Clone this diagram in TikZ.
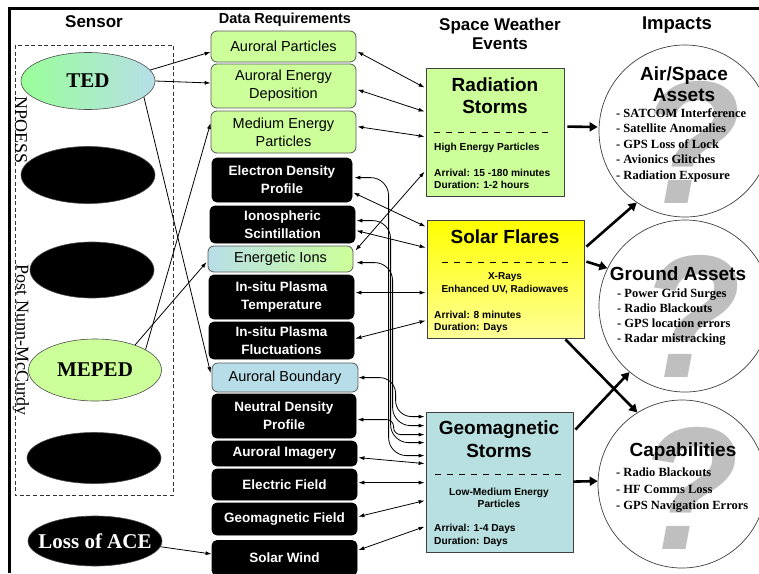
\documentclass[tikz,border=0pt]{standalone}
\usepackage{fontspec}
\setmainfont{Liberation Serif}
\setsansfont{Liberation Sans}
\usetikzlibrary{shapes.geometric,arrows.meta,calc}
\definecolor{lgreen}{HTML}{CCFF99}
\definecolor{lblue}{HTML}{B7DEE8}
\definecolor{tedgreen}{HTML}{99FF99}
\definecolor{lyellow}{HTML}{FFFF99}
\definecolor{gsblue}{HTML}{B8E0E0}
\begin{document}
\begin{tikzpicture}[x=1pt,y=-1pt,
  every node/.style={font=\sffamily},
  hdr/.style={font=\sffamily\bfseries\fontsize{17}{19}\selectfont, align=center, inner sep=0pt},
  dbox/.style={rectangle, rounded corners=6pt, draw=gray!70!black, line width=0.8pt, align=center, inner sep=1pt, font=\sffamily\fontsize{14.5}{18}\selectfont},
  gbox/.style={dbox, fill=lgreen},
  bbox/.style={dbox, fill=black, draw=black, text=white, rounded corners=5pt, font=\sffamily\bfseries\fontsize{13.5}{18}\selectfont},
  sens/.style={ellipse, draw=gray!60!black, line width=0.6pt, inner sep=0pt, font=\rmfamily\bfseries\fontsize{21}{21}\selectfont},
  rottext/.style={rotate=-90, inner sep=0pt, font=\rmfamily\fontsize{18}{18}\selectfont},
  evbox/.style={rectangle, draw=gray!50!black, line width=0.8pt, inner sep=0pt},
  etitle/.style={font=\sffamily\bfseries\fontsize{19}{22}\selectfont, align=center, inner sep=0pt},
  esmall/.style={font=\sffamily\bfseries\fontsize{10.2}{12.5}\selectfont, inner sep=0pt},
  edash/.style={line width=1pt, dash pattern=on 6pt off 6pt},
  impc/.style={circle, draw=gray!50!black, line width=0.7pt, fill=white, inner sep=0pt},
  ititle/.style={font=\sffamily\bfseries\fontsize{19}{21}\selectfont, align=center, inner sep=0pt},
  ilist/.style={font=\rmfamily\bfseries\fontsize{12.5}{15.5}\selectfont, align=left, inner sep=0pt, anchor=west},
  qmark/.style={font=\sffamily\bfseries\itshape\fontsize{175}{175}\selectfont, text=gray!62, text opacity=0.8, inner sep=0pt, xscale=0.95},
  tarr/.style={line width=0.8pt, -{Latex[length=6pt,width=4pt]}},
  darr/.style={line width=0.8pt, {Latex[length=6pt,width=4pt]}-{Latex[length=6pt,width=4pt]}},
  karr/.style={line width=2.6pt, -{Triangle[length=8pt,width=9pt]}}
]
\useasboundingbox (0,0) rectangle (759,573);
\fill[white] (0,0) rectangle (759,573);

% frame
\draw[line width=3pt] (9.5,573) -- (9.5,8) -- (759,8);

% headers
\node[hdr] (hsensor) at (94,22) {Sensor};
\node[hdr, font=\sffamily\bfseries\fontsize{14.5}{16}\selectfont] (hdata) at (285,20) {Data Requirements};
\node[hdr] (hsw) at (500,34) {Space Weather\\Events};
\node[hdr, font=\sffamily\bfseries\fontsize{18.5}{20}\selectfont] (himp) at (677,25) {Impacts};

% sensor group
\draw[dashed, dash pattern=on 4pt off 2.5pt, line width=0.7pt, gray!40!black] (15,45) rectangle (173,495);
\node[rottext] (npoess) at (21,130) {NPOESS};
\node[rottext] (pnm) at (21,340) {Post Nunn-McCurdy};

\node[sens, minimum width=134pt, minimum height=57pt, left color=tedgreen, right color=lblue] (ted) at (88,81) {\makebox[0pt]{TED}};
\node[sens, fill=black, minimum width=134pt, minimum height=57pt] (s2) at (88,175) {};
\node[sens, fill=black, minimum width=124pt, minimum height=56pt] (s3) at (92,270) {};
\node[sens, fill=lgreen, minimum width=133pt, minimum height=62pt] (meped) at (95,370) {\makebox[0pt]{MEPED}};
\node[sens, fill=black, minimum width=134pt, minimum height=51pt] (s5) at (94,458) {};
\node[sens, fill=black, text=white, minimum width=134pt, minimum height=50pt] (ace) at (95,541) {\makebox[0pt]{Loss of ACE}};

% data requirements
\node[gbox, minimum width=145pt, minimum height=31pt] (ap) at (283.5,46.5) {Auroral Particles};
\node[gbox, minimum width=145pt, minimum height=44pt] (aed) at (283.5,86) {Auroral Energy\\Deposition};
\node[gbox, minimum width=145pt, minimum height=42pt] (mep) at (283.5,132) {Medium Energy\\Particles};
\node[bbox, minimum width=140pt, minimum height=44pt] (edp) at (282,180) {Electron Density\\Profile};
\node[bbox, minimum width=145pt, minimum height=37pt] (isc) at (282.5,224.5) {Ionospheric\\Scintillation};
\node[dbox, left color=lblue, right color=lgreen, minimum width=145pt, minimum height=26pt] (ei) at (280.5,259) {Energetic Ions};
\node[bbox, minimum width=145pt, minimum height=44pt] (ipt) at (281.5,297) {In-situ Plasma\\Temperature};
\node[bbox, minimum width=145pt, minimum height=37pt] (ipf) at (281.5,340.5) {In-situ Plasma\\Fluctuations};
\node[dbox, fill=lblue, minimum width=146pt, minimum height=29pt] (ab) at (285,377.5) {Auroral Boundary};
\node[bbox, minimum width=144pt, minimum height=44pt] (ndp) at (284,416) {Neutral Density\\Profile};
\node[bbox, minimum width=145pt, minimum height=25pt] (ai) at (284.5,453.5) {Auroral Imagery};
\node[bbox, minimum width=145pt, minimum height=31pt] (ef) at (284.5,484.5) {Electric Field};
\node[bbox, minimum width=145pt, minimum height=32pt] (gf) at (284.5,519) {Geomagnetic Field};
\node[bbox, minimum width=145pt, minimum height=35pt] (sw) at (284.5,558) {Solar Wind};

% events
\node[evbox, fill=lgreen, minimum width=138pt, minimum height=128pt] (rs) at (495,132) {};
\node[evbox, top color=yellow, bottom color=lyellow, minimum width=157pt, minimum height=118pt] (sf) at (505.5,279) {};
\node[evbox, fill=gsblue, minimum width=147pt, minimum height=140pt] (gs) at (499.5,482) {};

\node[etitle] (rst) at (495,96) {Radiation\\Storms};
\draw[edash] (434,132) -- (552,132);
\node[esmall, anchor=west] (rsp) at (434,148) {High Energy Particles};
\node[esmall, anchor=west, align=left] (rsa) at (434,179) {Arrival: 15 -180 minutes\\Duration: 1-2 hours};

\node[etitle] (sft) at (505,237) {Solar Flares};
\draw[edash] (442,262) -- (568,262);
\node[esmall, align=center, font=\sffamily\bfseries\fontsize{10}{13}\selectfont] (sfx) at (505,283.5) {X-Rays\\Enhanced UV, Radiowaves};
\node[esmall, anchor=west, align=left] (sfa) at (434,322) {Arrival: 8 minutes\\Duration: Days};

\node[etitle, font=\sffamily\bfseries\fontsize{19}{23}\selectfont] (gst) at (499,439.5) {Geomagnetic\\Storms};
\draw[edash] (435,474) -- (563,474);
\node[esmall, align=center] (gsp) at (499,498) {Low-Medium Energy\\Particles};
\node[esmall, anchor=west, align=left] (gsa) at (434,535.5) {Arrival: 1-4 Days\\Duration: Days};

% impacts
\node[impc, minimum size=172pt] (air) at (685,131) {};
\node[impc, minimum size=172pt] (gnd) at (685,306) {};
\node[impc, minimum size=168pt] (cap) at (682,484) {};
\node[qmark] (q1) at (690,142) {?};
\node[qmark] (q2) at (690,316) {?};
\node[qmark] (q3) at (688,488) {?};

\node[ititle] (airt) at (684,84.5) {Air/Space\\Assets};
\node[ilist] (airl) at (616,145) {- SATCOM Interference\\- Satellite Anomalies\\- GPS Loss of Lock\\- Avionics Glitches\\- Radiation Exposure};
\node[ititle] (gndt) at (678,274) {Ground Assets};
\node[ilist, font=\rmfamily\bfseries\fontsize{12.5}{15.3}\selectfont] (gndl) at (617,317) {- Power Grid Surges\\- Radio Blackouts\\- GPS location errors\\- Radar mistracking};
\node[ititle] (capt) at (683,452) {Capabilities};
\node[ilist, font=\rmfamily\bfseries\fontsize{12.5}{16.5}\selectfont] (capl) at (616,490.5) {- Radio Blackouts\\- HF Comms Loss\\- GPS Navigation Errors};

% sensor -> data
\draw[tarr] (ted.10) -- ($(ap.west)+(0,5.5)$);
\draw[tarr] (ted.east) -- ($(aed.west)+(0,-3)$);
\draw[tarr] (ted.-16) -- ($(ab.west)+(-1,-4.5)$);
\draw[tarr] (meped.22) -- ($(mep.west)+(0,-9)$);
\draw[tarr] (meped.32) -- ($(ei.west)+(-1,3)$);
\draw[tarr] (ace.-5) -- ($(sw.west)+(0,-4)$);

% events <-> data
\draw[darr] ($(ap.north east)+(1,21)$) -- ($(rs.north west)+(-1,20)$);
\draw[darr] ($(aed.north east)+(1,26)$) -- ($(rs.north west)+(-1,44)$);
\draw[darr] ($(mep.north east)+(1,16)$) -- ($(rs.north west)+(-1,69)$);
\draw[darr] ($(ei.north east)+(2,5)$) -- ($(rs.north west)+(-1,104)$);
\draw[darr] ($(edp.north east)+(1,35)$) -- ($(sf.north west)+(-1,7)$);
\draw[darr] ($(isc.north east)+(1,25)$) -- ($(sf.north west)+(-1,28)$);
\draw[darr] ($(ipt.north east)+(1,18)$) -- ($(sf.north west)+(-1,73)$);
\draw[darr] ($(ipf.north east)+(1,17)$) -- ($(sf.north west)+(-1,101)$);
\draw[darr] ($(ai.north east)+(1,17)$) -- ($(gs.north west)+(-1,52)$);
\draw[darr] ($(ef.north east)+(1,14)$) -- ($(gs.north west)+(-1,71)$);
\draw[darr] ($(gf.north east)+(1,14)$) -- ($(gs.north west)+(-1,89)$);
\draw[darr] ($(sw.north east)+(1,10)$) -- ($(gs.north west)+(-1,115)$);

% curved connectors to geomagnetic storms
\draw[darr, rounded corners=18pt] ($(edp.north east)+(2,20)$) -| ($(gs.north west)+(-37,44)$) -- ($(gs.north west)+(-1,44)$);
\draw[darr, rounded corners=18pt] ($(isc.north east)+(1,15)$) -| ($(gs.north west)+(-35,31)$) -- ($(gs.north west)+(-1,31)$);
\draw[darr, rounded corners=18pt] ($(ei.north east)+(3,17)$) -| ($(gs.north west)+(-33,14)$) -- ($(gs.north west)+(-1,14)$);
\draw[darr, rounded corners=16pt] ($(ab.north east)+(0,15)$) -| ($(gs.north west)+(-30,5)$) -- ($(gs.north west)+(-1,5)$);
\draw[darr, rounded corners=7pt] ($(ndp.north east)+(1,26)$) -| ($(gs.north west)+(-32,23)$) -- ($(gs.north west)+(-1,23)$);

% events -> impacts
\draw[karr] ($(rs.north east)+(3,59)$) -- ($(air.west)+(-1,-4)$);
\draw[karr] ($(sf.north east)+(2,27)$) -- (air.236);
\draw[karr] ($(sf.north east)+(2,42)$) -- (gnd.154);
\draw[karr] ($(sf.south east)+(-19,1)$) -- (cap.122);
\draw[karr] ($(gs.north east)+(2,18)$) -- (gnd.230);
\draw[karr] ($(gs.north east)+(0,70)$) -- (cap.178);
\end{tikzpicture}
\end{document}
